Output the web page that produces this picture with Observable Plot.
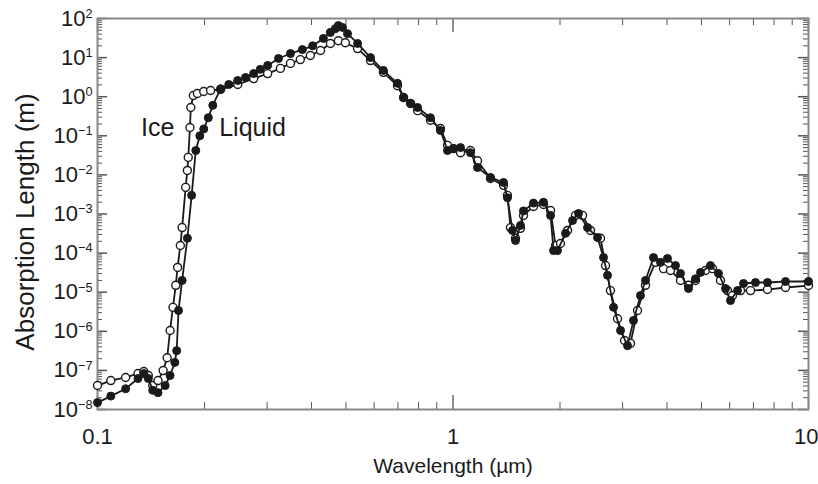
<!DOCTYPE html>
<html><head><meta charset="utf-8">
<script src="https://cdn.jsdelivr.net/npm/d3@7"></script>
<script src="https://cdn.jsdelivr.net/npm/@observablehq/plot@0.6"></script>
<style>body{margin:0;background:#fff}</style>
</head><body><div id="chart"></div><script>
// Liquid water (filled circles)
const liquidWavelength = [0.100,0.109,0.120,0.130,0.135,0.139,0.143,0.148,0.155,0.160,0.165,0.167,0.169,0.173,0.179,0.184,0.189,0.194,0.199,0.205,0.211,0.222,0.234,0.248,0.261,0.275,0.287,0.301,0.323,0.349,0.377,0.403,0.432,0.452,0.467,0.476,0.489,0.505,0.539,0.586,0.637,0.698,0.726,0.760,0.795,0.864,0.922,0.965,1.003,1.050,1.120,1.172,1.275,1.387,1.423,1.470,1.499,1.548,1.579,1.684,1.797,1.881,1.918,1.968,2.073,2.169,2.254,2.390,2.550,2.651,2.721,2.829,2.960,3.097,3.219,3.368,3.479,3.664,3.834,4.012,4.225,4.364,4.596,4.810,4.968,5.300,5.582,5.841,6.034,6.314,6.564,7.093,7.667,8.617,10.0];
const liquidLength = [1.5e-8,2.2e-8,3.4e-8,6.2e-8,8.3e-8,6.2e-8,3.1e-8,2.7e-8,4.1e-8,7.4e-8,1.6e-7,3.2e-7,3.4e-6,2.0e-5,2.4e-4,3.0e-3,4.2e-2,0.10,0.15,0.29,0.60,1.6,2.05,2.6,3.1,3.9,5.0,6.3,9.5,12.7,16,20,31,44,55,66,59,41,23,10,4.7,2.2,0.95,0.67,0.53,0.29,0.137,0.042,0.047,0.050,0.037,0.0155,0.0086,0.0064,0.0026,3.8e-4,2.1e-4,5.1e-4,1.2e-3,1.9e-3,2.0e-3,9.2e-4,1.16e-4,1.16e-4,3.2e-4,6.8e-4,1.03e-3,4.5e-4,2.5e-4,7.7e-5,2.7e-5,4.1e-6,1.05e-6,4.3e-7,1.9e-6,8.2e-6,2.0e-5,7.7e-5,5.8e-5,7.3e-5,4.8e-5,3.0e-5,1.24e-5,2.2e-5,3.2e-5,4.8e-5,3.0e-5,1.24e-5,6.1e-6,1.1e-5,1.67e-5,1.77e-5,1.77e-5,1.88e-5,1.88e-5];

// Ice (open circles)
const iceWavelength = [0.100,0.109,0.120,0.130,0.135,0.139,0.143,0.148,0.153,0.157,0.160,0.163,0.166,0.168,0.171,0.173,0.177,0.179,0.180,0.182,0.183,0.186,0.191,0.199,0.208,0.222,0.248,0.275,0.301,0.327,0.349,0.372,0.397,0.424,0.452,0.476,0.498,0.539,0.586,0.637,0.698,0.726,0.760,0.795,0.864,0.922,0.965,1.003,1.050,1.120,1.172,1.275,1.387,1.423,1.451,1.499,1.548,1.579,1.684,1.797,1.881,1.943,2.006,2.100,2.211,2.314,2.437,2.600,2.686,2.773,2.902,3.037,3.157,3.304,3.479,3.712,3.909,4.090,4.364,4.596,4.810,5.132,5.370,5.655,5.918,6.112,6.440,6.869,7.667,8.617,10.0];
const iceLength = [4.1e-8,5.5e-8,6.6e-8,8.3e-8,9.4e-8,7.4e-8,4.1e-8,5.5e-8,9.9e-8,2.1e-7,1.05e-6,4.1e-6,1.5e-5,4.3e-5,1.56e-4,4.5e-4,4.8e-3,1.3e-2,2.8e-2,0.163,0.53,1.07,1.21,1.36,1.44,1.53,2.05,2.9,3.9,5.3,7.1,8.9,11.3,15.2,23,27,24,17,8.4,4.2,1.9,0.95,0.67,0.44,0.25,0.154,0.057,0.047,0.037,0.042,0.023,0.0081,0.0054,0.0030,4.5e-4,2.4e-4,4.3e-4,9.2e-4,1.56e-3,1.75e-3,1.23e-3,1.56e-4,1.76e-4,3.8e-4,9.2e-4,9.2e-4,3.8e-4,2.4e-4,4.8e-5,1.1e-5,2.1e-6,5.8e-7,4.9e-7,3.4e-6,1.5e-5,5.8e-5,4.0e-5,3.6e-5,2.0e-5,1.5e-5,2.0e-5,3.6e-5,4.0e-5,2.0e-5,1.1e-5,8.2e-6,1.1e-5,1.1e-5,1.17e-5,1.32e-5,1.48e-5];

// Axis ticks and labels
const xMajorTicks = [0.1, 1, 10];
const xTickLabels = ["0.1", "1", "10"];
const xMinorTicks = [0.2,0.3,0.4,0.5,0.6,0.7,0.8,0.9,2,3,4,5,6,7,8,9];
const yMajorTicks = [1e-8,1e-7,1e-6,1e-5,1e-4,1e-3,1e-2,1e-1,1e0,1e1,1e2];
const yMinorTicks = [];
for (const d of yMajorTicks.slice(0, -1)) for (let m = 2; m <= 9; m++) yMinorTicks.push(d * m);

const seriesLabels = [
  {name: "Ice", wavelength: 0.1476, length: 0.163},
  {name: "Liquid", wavelength: 0.273, length: 0.163}
];
const xTitle = "Wavelength (µm)";
const yTitle = "Absorption Length (m)";

const liquid = liquidWavelength.map((w, i) => ({w, L: liquidLength[i]}));
const ice = iceWavelength.map((w, i) => ({w, L: iceLength[i]}));

const W = 818, H = 484, mL = 97, mR = 10, mT = 18, mB = 75;
const frameW = W - mL - mR, frameH = H - mT - mB;
const ink = "#1a1a1a";
const axisInk = "#555";
const font = "'Liberation Sans', Arial, Helvetica, sans-serif";

// inward tick helpers (fixed pixel length, via insets)
const xTicks = (vals, len, side, sw = 1) => Plot.tickX(vals, {x: d => d, stroke: axisInk, strokeWidth: sw,
  ...(side === "bottom" ? {insetTop: frameH - len} : {insetBottom: frameH - len})});
const yTicks = (vals, len, side, sw = 1) => Plot.tickY(vals, {y: d => d, stroke: axisInk, strokeWidth: sw,
  ...(side === "left" ? {insetRight: frameW - len} : {insetLeft: frameW - len})});

const chart = Plot.plot({
  width: W,
  height: H,
  marginLeft: mL,
  marginRight: mR,
  marginTop: mT,
  marginBottom: mB,
  style: {fontFamily: font, background: "white", color: ink},
  x: {type: "log", domain: [0.1, 10]},
  y: {type: "log", domain: [1e-8, 1e2]},
  marks: [
    xTicks(xMinorTicks, 7, "bottom"),
    xTicks(xMinorTicks, 7, "top"),
    xTicks(xMajorTicks, 14, "bottom", 1.3),
    xTicks(xMajorTicks, 14, "top", 1.3),
    yTicks(yMinorTicks, 5, "left"),
    yTicks(yMinorTicks, 5, "right"),
    yTicks(yMajorTicks, 10, "left", 1.5),
    yTicks(yMajorTicks, 10, "right", 1.5),
    Plot.axisX(xMajorTicks.slice(0, 2), {anchor: "bottom", tickSize: 0, tickPadding: 19, fontSize: 22,
      tickFormat: d => xTickLabels[xMajorTicks.indexOf(d)], label: null}),
    Plot.axisX(xMajorTicks.slice(2), {anchor: "bottom", tickSize: 0, tickPadding: 19, fontSize: 22,
      textAnchor: "end", dx: 10, tickFormat: d => xTickLabels[xMajorTicks.indexOf(d)], label: null}),
    Plot.axisY(yMajorTicks, {anchor: "left", tickSize: 0, tickPadding: 5, fontSize: 22,
      tickFormat: d => "10^" + Math.round(Math.log10(d)), label: null}),
    Plot.frame({stroke: "#888", strokeWidth: 2}),
    // series
    Plot.line(ice, {x: "w", y: "L", stroke: ink, strokeWidth: 1.8}),
    Plot.dot(ice, {x: "w", y: "L", r: 4, fill: "white", stroke: ink, strokeWidth: 1.4}),
    Plot.line(liquid, {x: "w", y: "L", stroke: ink, strokeWidth: 1.8}),
    Plot.dot(liquid, {x: "w", y: "L", r: 4, fill: ink, stroke: ink, strokeWidth: 1}),
    // in-plot labels
    Plot.text(seriesLabels, {x: "wavelength", y: "length", text: "name", fontSize: 25, fill: ink}),
    // axis titles
    Plot.text([xTitle], {frameAnchor: "bottom", lineAnchor: "middle", textAnchor: "middle", dy: 57, fontSize: 21, fill: ink}),
    Plot.text([yTitle], {frameAnchor: "left", lineAnchor: "middle", textAnchor: "middle", dx: -72, dy: 8, rotate: -90, fontSize: 26, fill: ink})
  ]
});

document.getElementById("chart").appendChild(chart);

// superscript exponents for the y tick labels
d3.select(chart).selectAll('g[aria-label="y-axis tick label"] text').each(function () {
  const t = this.textContent;
  if (!t.includes("^")) return;
  const [base, exp] = t.split("^");
  const sel = d3.select(this);
  sel.text(null);
  sel.append("tspan").text(base);
  sel.append("tspan").attr("dy", "-0.6em").attr("font-size", "0.58em").text(exp.replace("-", "\u2212"));
});
</script></body></html>
